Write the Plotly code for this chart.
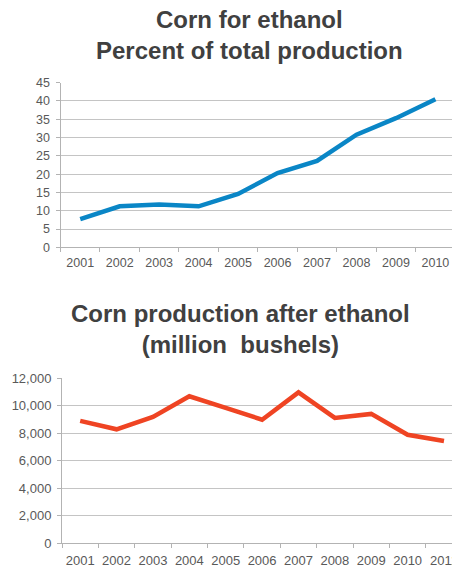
import plotly.graph_objects as go

# Corn used for ethanol, percent of total US corn production
years_top = ["2001", "2002", "2003", "2004", "2005", "2006", "2007", "2008", "2009", "2010"]
ethanol_share = [7.7, 11.2, 11.7, 11.2, 14.6, 20.3, 23.6, 30.8, 35.3, 40.5]

# Corn production left after ethanol use, million bushels
years_bottom = ["2001", "2002", "2003", "2004", "2005", "2006", "2007", "2008", "2009", "2010", "2011"]
after_ethanol = [8900, 8290, 9190, 10690, 9850, 8990, 10980, 9120, 9410, 7890, 7440]

top_ticks = [0, 5, 10, 15, 20, 25, 30, 35, 40, 45]
bottom_ticks = [0, 2000, 4000, 6000, 8000, 10000, 12000]

W, H = 452, 568
FONT = "Liberation Sans, Arial, sans-serif"
GRID = "#c4c4c4"
AXIS = "#b3b3b3"
LABEL = "#595959"
TITLE = "#404040"

fig = go.Figure()

fig.add_trace(go.Scatter(
    x=years_top, y=ethanol_share, mode="lines",
    line=dict(color="#0a86c6", width=4.5), xaxis="x", yaxis="y",
    showlegend=False, hoverinfo="x+y",
))
fig.add_trace(go.Scatter(
    x=years_bottom, y=after_ethanol, mode="lines",
    line=dict(color="#ef4423", width=4.5), xaxis="x2", yaxis="y2",
    showlegend=False, hoverinfo="x+y",
))

def px_y(top, bottom):
    return [1 - bottom / H, 1 - top / H]

common_x = dict(
    type="category", showgrid=False, showline=True, linecolor=AXIS, linewidth=1,
    ticks="outside", tickson="boundaries", ticklen=4, tickcolor=AXIS,
    zeroline=False, fixedrange=True, automargin=False, tickangle=0,
)
common_y = dict(
    showgrid=True, gridcolor=GRID, gridwidth=1, showline=True, linecolor=AXIS,
    linewidth=1, ticks="outside", ticklen=4, tickcolor=AXIS, zeroline=False,
    fixedrange=True, automargin=False,
)

fig.update_layout(
    width=W, height=H,
    margin=dict(l=0, r=0, t=0, b=0, autoexpand=False),
    paper_bgcolor="white", plot_bgcolor="white",
    font=dict(family=FONT, color=LABEL),
    xaxis=dict(common_x, domain=[60.5 / W, 1], range=[-0.5, 9.42],
               tickfont=dict(size=12.5, color=LABEL), anchor="y",
               ticklabelstandoff=4),
    yaxis=dict(common_y, domain=px_y(82.7, 247.3), range=[0, 45],
               tickvals=top_ticks, tickfont=dict(size=12.5, color=LABEL),
               anchor="x", ticklabelstandoff=3),
    xaxis2=dict(common_x, domain=[62 / W, 1], range=[-0.5, 10.22],
                tickfont=dict(size=13, color=LABEL), anchor="y2",
                ticklabelstandoff=5),
    yaxis2=dict(common_y, domain=px_y(378.3, 543.3), range=[0, 12000],
                tickvals=bottom_ticks, tickformat=",d",
                tickfont=dict(size=13, color=LABEL), anchor="x2",
                ticklabelstandoff=3),
)

def heading(text, x_px, y_px):
    fig.add_annotation(
        text=text, x=x_px / W, y=1 - y_px / H,
        xref="paper", yref="paper", xanchor="center", yanchor="middle",
        showarrow=False, font=dict(family=FONT, size=24, color=TITLE),
    )

heading("<b>Corn for ethanol</b><br><b>Percent of total production</b>", 249, 35)
heading("<b>Corn production after ethanol</b><br><b>(million\u00a0 bushels)</b>", 240.5, 329)

fig.write_html("out.html")
